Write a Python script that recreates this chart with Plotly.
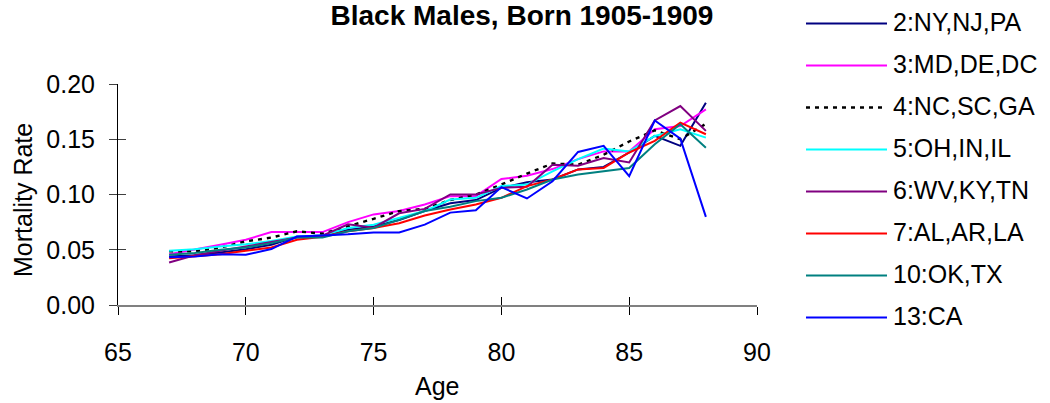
import plotly.graph_objects as go

# ---------------- data ----------------
ages = [67, 68, 69, 70, 71, 72, 73, 74, 75, 76, 77, 78, 79, 80, 81, 82, 83, 84, 85, 86, 87, 88]

ny_nj_pa = [0.044, 0.045, 0.0475, 0.0505, 0.0545, 0.0618, 0.063, 0.068, 0.071, 0.077, 0.085,
            0.092, 0.095, 0.106, 0.111, 0.1136, 0.1227, 0.125, 0.138, 0.153, 0.144, 0.183]
md_de_dc = [0.046, 0.050, 0.0545, 0.059, 0.066, 0.066, 0.066, 0.075, 0.082, 0.085, 0.091,
            0.0985, 0.0985, 0.114, 0.117, 0.123, 0.132, 0.139, 0.139, 0.159, 0.162, 0.177]
nc_sc_ga = [0.0485, 0.0485, 0.052, 0.0576, 0.061, 0.0667, 0.0645, 0.071, 0.078, 0.085, 0.087,
            0.095, 0.100, 0.109, 0.119, 0.128, 0.127, 0.136, 0.148, 0.158, 0.150, 0.164]
oh_in_il = [0.049, 0.0505, 0.053, 0.055, 0.058, 0.062, 0.063, 0.0697, 0.0727, 0.079, 0.085,
            0.0955, 0.097, 0.1076, 0.109, 0.121, 0.132, 0.1415, 0.139, 0.153, 0.159, 0.1515]
wv_ky_tn = [0.0385, 0.045, 0.049, 0.053, 0.057, 0.061, 0.0627, 0.073, 0.070, 0.083, 0.087,
            0.100, 0.100, 0.106, 0.107, 0.127, 0.126, 0.133, 0.129, 0.167, 0.180, 0.1576]
al_ar_la = [0.0424, 0.044, 0.046, 0.049, 0.052, 0.059, 0.0618, 0.0667, 0.0697, 0.074, 0.081,
            0.0864, 0.091, 0.097, 0.1076, 0.1136, 0.1227, 0.124, 0.138, 0.1485, 0.165, 0.1545]
ok_tx = [0.0455, 0.047, 0.050, 0.052, 0.056, 0.061, 0.061, 0.0667, 0.0697, 0.077, 0.085,
         0.089, 0.094, 0.097, 0.1045, 0.1136, 0.118, 0.121, 0.124, 0.1455, 0.1636, 0.1424]
ca = [0.0433, 0.044, 0.046, 0.0455, 0.0506, 0.062, 0.063, 0.064, 0.0657, 0.0657, 0.0727,
      0.0836, 0.0858, 0.1067, 0.0964, 0.112, 0.1385, 0.144, 0.1167, 0.167, 0.1506, 0.0797]

series_names = ["2:NY,NJ,PA", "3:MD,DE,DC", "4:NC,SC,GA", "5:OH,IN,IL",
                "6:WV,KY,TN", "7:AL,AR,LA", "10:OK,TX", "13:CA"]
series_values = [ny_nj_pa, md_de_dc, nc_sc_ga, oh_in_il, wv_ky_tn, al_ar_la, ok_tx, ca]

x_ticks = [65, 70, 75, 80, 85, 90]
y_ticks = [0.00, 0.05, 0.10, 0.15, 0.20]

title_text = "Black Males, Born 1905-1909"
x_title = "Age"
y_title = "Mortality Rate"

# ---------------- styles ----------------
colors = ["#000080", "#FF00FF", "#000000", "#00FFFF", "#800080", "#FF0000", "#008080", "#0000FF"]
dashes = ["solid", "solid", "4px,5px", "solid", "solid", "solid", "solid", "solid"]
FONT = "Liberation Sans, Arial, sans-serif"
FS = 25
TITLE_FS = 28

W, H = 1050, 403
L, R, T, B = 118, 293, 84, 98
PW, PH = W - L - R, H - T - B


def px_x(p):
    return (p - L) / PW


def px_y(p):
    return (H - B - p) / PH


fig = go.Figure()
for name, vals, c, d in zip(series_names, series_values, colors, dashes):
    fig.add_trace(go.Scatter(x=ages, y=vals, mode="lines", name=name,
                             line=dict(color=c, width=2.4 if d != "solid" else 2, dash=d),
                             showlegend=False, hoverinfo="skip"))

# empty trace so the overlay axes (inner half of the cross ticks) are drawn
fig.add_trace(go.Scatter(x=[], y=[], xaxis="x2", yaxis="y2", showlegend=False, hoverinfo="skip"))

axis_font = dict(family=FONT, size=FS, color="black")
title_baseline = 25
fig.update_layout(
    width=W, height=H,
    margin=dict(l=L, r=R, t=T, b=B, pad=0),
    paper_bgcolor="white", plot_bgcolor="white",
    font=axis_font,
    title=dict(text="<b>" + title_text + "</b>", x=522 / W, xanchor="center",
               y=1 - (title_baseline - 0.35 * TITLE_FS) / H, yanchor="middle",
               font=dict(family=FONT, size=TITLE_FS, color="black")),
    xaxis=dict(range=[x_ticks[0], x_ticks[-1]], tickvals=x_ticks, ticks="outside", ticklen=8,
               tickcolor="black", tickwidth=1, showline=True, linecolor="#808080", linewidth=2,
               showgrid=False, zeroline=False, tickfont=axis_font, ticklabelstandoff=16),
    yaxis=dict(range=[y_ticks[0], y_ticks[-1]], tickvals=y_ticks, tickformat=".2f",
               ticks="outside", ticklen=8, tickcolor="#404040", tickwidth=1, showline=True,
               linecolor="black", linewidth=1, showgrid=False, zeroline=False,
               tickfont=axis_font, ticklabelstandoff=9),
    xaxis2=dict(range=[x_ticks[0], x_ticks[-1]], tickvals=x_ticks, ticks="inside", ticklen=8,
                tickcolor="black", tickwidth=1, showticklabels=False, showline=False,
                showgrid=False, zeroline=False, overlaying="x", anchor="y2"),
    yaxis2=dict(range=[y_ticks[0], y_ticks[-1]], tickvals=y_ticks, ticks="inside", ticklen=8,
                tickcolor="#404040", tickwidth=1, showticklabels=False, showline=False,
                showgrid=False, zeroline=False, overlaying="y", anchor="x2"),
    hovermode=False,
)

annotations = [
    dict(text=x_title, xref="paper", yref="paper", x=px_x(437), y=px_y(386),
         xanchor="center", yanchor="middle", showarrow=False, font=axis_font),
    dict(text=y_title, xref="paper", yref="paper", x=px_x(23), y=px_y(200),
         xanchor="center", yanchor="middle", showarrow=False, textangle=-90, font=axis_font),
]
shapes = []

# legend drawn by hand (long line samples, as in the reference)
leg_x0, leg_x1, leg_tx = 806, 887, 891
leg_y0, leg_dy = 23.5, 42
for i, (name, c, d) in enumerate(zip(series_names, colors, dashes)):
    yy = leg_y0 + i * leg_dy
    shapes.append(dict(type="line", xref="paper", yref="paper",
                       x0=px_x(leg_x0), x1=px_x(leg_x1), y0=px_y(yy), y1=px_y(yy),
                       line=dict(color=c, width=2.4 if d != "solid" else 2, dash=d)))
    annotations.append(dict(text=name, xref="paper", yref="paper", x=px_x(leg_tx), y=px_y(yy - 1.5),
                            xanchor="left", yanchor="middle", showarrow=False,
                            font=axis_font))

fig.update_layout(annotations=annotations, shapes=shapes)
fig.write_html("out.html", config={"displayModeBar": False, "staticPlot": True},
               post_script="document.body.style.margin='0px';")
